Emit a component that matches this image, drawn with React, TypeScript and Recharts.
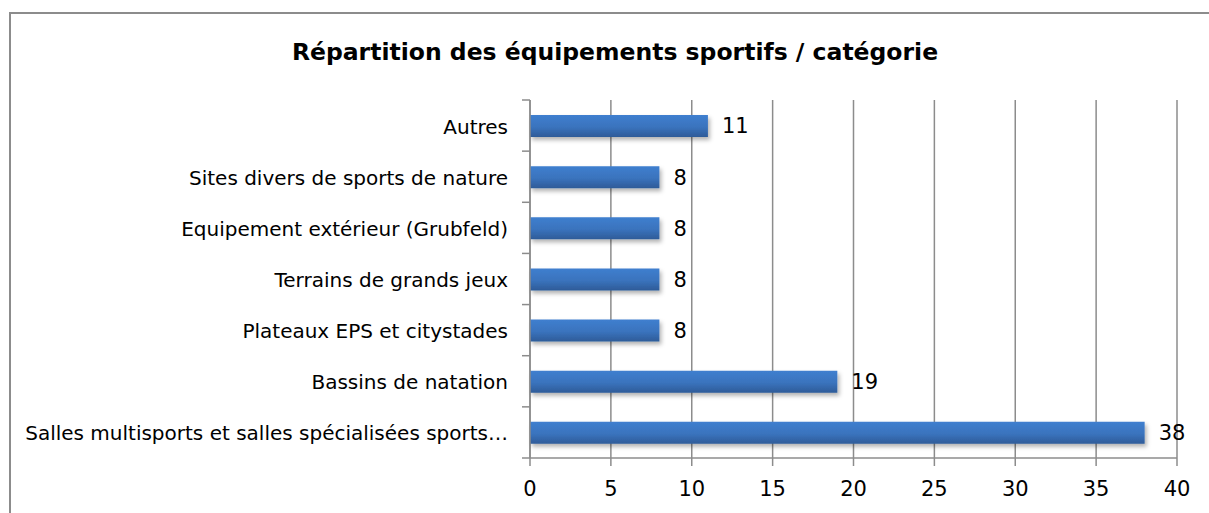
import React from "react";
import {
  BarChart,
  Bar,
  XAxis,
  YAxis,
  CartesianGrid,
  LabelList,
} from "recharts";

const categories = [
  "Autres",
  "Sites divers de sports de nature",
  "Equipement extérieur (Grubfeld)",
  "Terrains de grands jeux",
  "Plateaux EPS et citystades",
  "Bassins de natation",
  "Salles multisports et salles spécialisées sports…",
];
const counts = [11, 8, 8, 8, 8, 19, 38];
const xTicks = [0, 5, 10, 15, 20, 25, 30, 35, 40];

const title = "Répartition des équipements sportifs / catégorie";
const FONT = "'DejaVu Sans', Verdana, sans-serif";
const GRID = "#8c8c8c";

const data = categories.map((name, i) => ({ name, value: counts[i] }));

// category label + tick marks on band boundaries (Excel style)
function CategoryTick(props: any) {
  const { x, y, payload, index } = props;
  const half = payload?.offset ?? 25.6;
  const axisX = x + 22;
  return (
    <g>
      <line x1={axisX - 8} x2={axisX} y1={y - half} y2={y - half} stroke={GRID} strokeWidth={1.5} />
      {index === categories.length - 1 && (
        <line x1={axisX - 8} x2={axisX} y1={y + half} y2={y + half} stroke={GRID} strokeWidth={1.5} />
      )}
      <text x={x} y={y} dy={8} textAnchor="end" fill="#000" fontSize={20} fontFamily={FONT}>
        {payload.value}
      </text>
    </g>
  );
}

export default function App() {
  return (
    <div
      style={{
        position: "fixed",
        left: 0,
        top: 0,
        width: 1209,
        height: 513,
        overflow: "hidden",
        background: "#fff",
      }}
    >
      <div
        style={{
          position: "absolute",
          left: 9,
          top: 12,
          width: 1220,
          height: 520,
          border: "2px solid #8c8c8c",
          boxSizing: "border-box",
        }}
      />
      <BarChart
        width={1209}
        height={513}
        data={data}
        layout="vertical"
        barSize={22}
        margin={{ top: 100, right: 32, left: 0, bottom: 15 }}
        style={{ position: "absolute", left: 0, top: 0 }}
      >
        <defs>
          <linearGradient id="barFill" x1="0" y1="0" x2="0" y2="1">
            <stop offset="0%" stopColor="#3f7fcf" />
            <stop offset="55%" stopColor="#3a73bd" />
            <stop offset="100%" stopColor="#2e5b98" />
          </linearGradient>
          <filter id="barShadow" x="-5%" y="-30%" width="110%" height="180%">
            <feDropShadow dx="2" dy="3" stdDeviation="2" floodColor="#000" floodOpacity="0.3" />
          </filter>
        </defs>
        <text
          x={615}
          y={60}
          textAnchor="middle"
          fontSize={23.5}
          fontWeight="bold"
          fontFamily={FONT}
          fill="#000"
        >
          {title}
        </text>
        <CartesianGrid horizontal={false} stroke={GRID} strokeWidth={1.5} />
        <XAxis
          type="number"
          domain={[0, 40]}
          ticks={xTicks}
          interval={0}
          height={40}
          axisLine={{ stroke: GRID, strokeWidth: 1.5 }}
          tickLine={{ stroke: GRID, strokeWidth: 1.5 }}
          tickSize={8}
          tickMargin={15}
          tick={{ fill: "#000", fontSize: 21, fontFamily: FONT }}
        />
        <YAxis
          type="category"
          dataKey="name"
          width={530}
          interval={0}
          axisLine={{ stroke: GRID, strokeWidth: 1.5 }}
          tickLine={false}
          tickSize={0}
          tickMargin={22}
          tick={<CategoryTick />}
        />
        <Bar
          dataKey="value"
          fill="url(#barFill)"
          filter="url(#barShadow)"
          isAnimationActive={false}
        >
          <LabelList
            dataKey="value"
            position="right"
            offset={14}
            fill="#000"
            fontSize={21}
            fontFamily={FONT}
          />
        </Bar>
      </BarChart>
    </div>
  );
}
